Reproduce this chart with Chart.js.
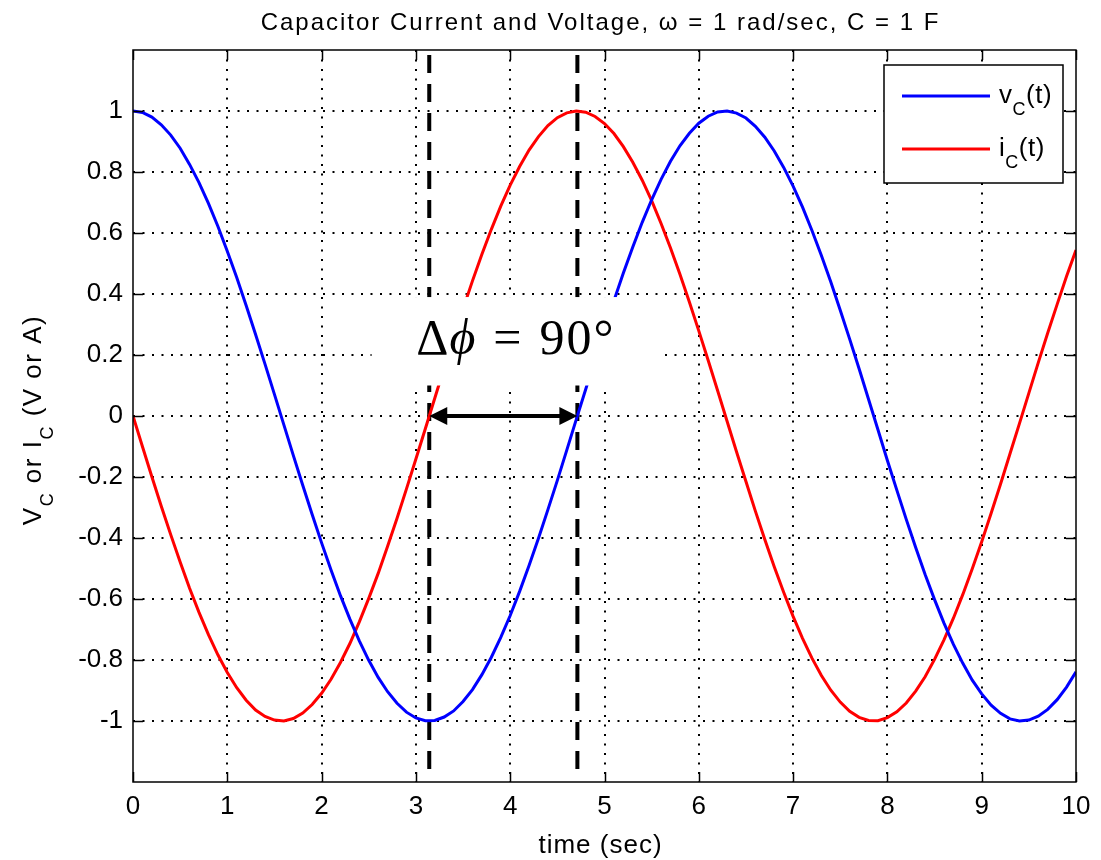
<!DOCTYPE html>
<html>
<head>
<meta charset="utf-8">
<title>Capacitor Current and Voltage</title>
<script src="https://cdn.jsdelivr.net/npm/chart.js@4.4.1/dist/chart.umd.min.js"></script>
<style>
    body { margin: 0; background: #fff; }
    canvas { display: block; }
</style>
</head>
<body>
<canvas id="phase-chart" width="1101" height="860"></canvas>
<script>
// time samples (sec)
const timeSec = [
    0.0, 0.1, 0.2, 0.3, 0.4, 0.5, 0.6, 0.7, 0.8, 0.9,
    1.0, 1.1, 1.2, 1.3, 1.4, 1.5, 1.6, 1.7, 1.8, 1.9,
    2.0, 2.1, 2.2, 2.3, 2.4, 2.5, 2.6, 2.7, 2.8, 2.9,
    3.0, 3.1, 3.2, 3.3, 3.4, 3.5, 3.6, 3.7, 3.8, 3.9,
    4.0, 4.1, 4.2, 4.3, 4.4, 4.5, 4.6, 4.7, 4.8, 4.9,
    5.0, 5.1, 5.2, 5.3, 5.4, 5.5, 5.6, 5.7, 5.8, 5.9,
    6.0, 6.1, 6.2, 6.3, 6.4, 6.5, 6.6, 6.7, 6.8, 6.9,
    7.0, 7.1, 7.2, 7.3, 7.4, 7.5, 7.6, 7.7, 7.8, 7.9,
    8.0, 8.1, 8.2, 8.3, 8.4, 8.5, 8.6, 8.7, 8.8, 8.9,
    9.0, 9.1, 9.2, 9.3, 9.4, 9.5, 9.6, 9.7, 9.8, 9.9,
    10.0
];

// capacitor voltage (V)
const vC = [
    1.000, 0.995, 0.980, 0.955, 0.921, 0.878, 0.825, 0.765, 0.697, 0.622,
    0.540, 0.454, 0.362, 0.267, 0.170, 0.071, -0.029, -0.129, -0.227, -0.323,
    -0.416, -0.505, -0.589, -0.666, -0.737, -0.801, -0.857, -0.904, -0.942, -0.971,
    -0.990, -0.999, -0.998, -0.987, -0.967, -0.936, -0.897, -0.848, -0.791, -0.726,
    -0.654, -0.575, -0.490, -0.401, -0.307, -0.211, -0.112, -0.012, 0.087, 0.187,
    0.284, 0.378, 0.469, 0.554, 0.635, 0.709, 0.776, 0.835, 0.886, 0.927,
    0.960, 0.983, 0.997, 1.000, 0.993, 0.977, 0.950, 0.914, 0.869, 0.815,
    0.754, 0.685, 0.608, 0.526, 0.439, 0.347, 0.252, 0.155, 0.055, -0.045,
    -0.146, -0.243, -0.339, -0.431, -0.520, -0.602, -0.679, -0.749, -0.811, -0.866,
    -0.911, -0.948, -0.975, -0.993, -1.000, -0.997, -0.984, -0.962, -0.930, -0.889,
    -0.839
];

// capacitor current (A)
const iC = [
    0.000, -0.100, -0.199, -0.296, -0.389, -0.479, -0.565, -0.644, -0.717, -0.783,
    -0.841, -0.891, -0.932, -0.964, -0.985, -0.997, -1.000, -0.992, -0.974, -0.946,
    -0.909, -0.863, -0.808, -0.746, -0.675, -0.598, -0.516, -0.427, -0.335, -0.239,
    -0.141, -0.042, 0.058, 0.158, 0.256, 0.351, 0.443, 0.530, 0.612, 0.688,
    0.757, 0.818, 0.872, 0.916, 0.952, 0.978, 0.994, 1.000, 0.996, 0.982,
    0.959, 0.926, 0.883, 0.832, 0.773, 0.706, 0.631, 0.551, 0.465, 0.374,
    0.279, 0.182, 0.083, -0.017, -0.117, -0.215, -0.312, -0.405, -0.494, -0.578,
    -0.657, -0.729, -0.794, -0.851, -0.899, -0.938, -0.968, -0.988, -0.998, -0.999,
    -0.989, -0.970, -0.941, -0.902, -0.855, -0.798, -0.734, -0.663, -0.585, -0.501,
    -0.412, -0.319, -0.223, -0.124, -0.025, 0.075, 0.175, 0.272, 0.366, 0.458,
    0.544
];

const xTicks = [0, 1, 2, 3, 4, 5, 6, 7, 8, 9, 10];
const yTicks = [-1, -0.8, -0.6, -0.4, -0.2, 0, 0.2, 0.4, 0.6, 0.8, 1];

// phase marker: vC minimum and iC maximum
const phaseStart = 3.1416;
const phaseEnd = 4.7124;

const FONT = '"Liberation Sans", Arial, sans-serif';
const SERIF = '"Liberation Serif", "DejaVu Serif", serif';

////
///////////////////// helpers /////////////////////
////

// draws pieces of text with sizes / baseline shifts, returns width
function richText(ctx, x, y, parts, spacing, measureOnly) {
    let cx = x;
    parts.forEach(p => {
        ctx.font = (p.italic ? 'italic ' : '') + p.size + 'px ' + (p.family || FONT);
        ctx.letterSpacing = (p.spacing !== undefined ? p.spacing : spacing) + 'px';
        if (!measureOnly) ctx.fillText(p.t, cx, y + (p.dy || 0));
        cx += ctx.measureText(p.t).width + (p.gap || 0);
    });
    ctx.letterSpacing = '0px';
    return cx - x;
}

function line(ctx, x1, y1, x2, y2) {
    ctx.beginPath();
    ctx.moveTo(x1, y1);
    ctx.lineTo(x2, y2);
    ctx.stroke();
}

////
///////////////////// matlab style axes /////////////////////
////

const matlabAxes = {
    id: 'matlabAxes',
    beforeDatasetsDraw(chart) {
        const { ctx, chartArea: a, scales: { x, y } } = chart;
        ctx.save();
        // dotted grid
        ctx.strokeStyle = '#000';
        ctx.lineWidth = 2;
        ctx.setLineDash([2, 7.5]);
        x.ticks.forEach(t => {
            if (t.value <= 0 || t.value >= 10) return;
            const px = Math.round(x.getPixelForValue(t.value));
            line(ctx, px, a.top, px, a.bottom);
        });
        y.ticks.forEach(t => {
            const py = Math.round(y.getPixelForValue(t.value));
            line(ctx, a.left, py, a.right, py);
        });
        // dashed phase markers
        ctx.setLineDash([18, 11]);
        ctx.lineWidth = 4;
        [phaseStart, phaseEnd].forEach(v => {
            const px = x.getPixelForValue(v);
            line(ctx, px, a.top + 5, px, a.bottom - 6);
        });
        ctx.restore();
    },
    afterDatasetsDraw(chart) {
        const { ctx, chartArea: a, scales: { x, y } } = chart;
        ctx.save();

        // double arrow between the two markers at zero
        const y0 = y.getPixelForValue(0);
        const xa = x.getPixelForValue(phaseStart);
        const xb = x.getPixelForValue(phaseEnd);
        ctx.strokeStyle = '#000';
        ctx.fillStyle = '#000';
        ctx.lineWidth = 4;
        line(ctx, xa + 12, y0, xb - 12, y0);
        ctx.beginPath();
        ctx.moveTo(xa, y0); ctx.lineTo(xa + 18, y0 - 9); ctx.lineTo(xa + 18, y0 + 9); ctx.closePath();
        ctx.moveTo(xb, y0); ctx.lineTo(xb - 18, y0 - 9); ctx.lineTo(xb - 18, y0 + 9); ctx.closePath();
        ctx.fill();

        // white label box
        const bx0 = x.getPixelForValue(2.53), bx1 = x.getPixelForValue(5.59);
        const by0 = y.getPixelForValue(0.39), by1 = y.getPixelForValue(0.10);
        ctx.fillStyle = '#fff';
        ctx.fillRect(bx0, by0, bx1 - bx0, by1 - by0);
        const phaseParts = [
            { t: '\u0394', size: 50, family: SERIF, gap: 1 },
            { t: '\u03D5', size: 50, family: SERIF, italic: true, gap: 18 },
            { t: '=', size: 50, family: SERIF, gap: 18 },
            { t: '90\u00B0', size: 50, family: SERIF, spacing: 2 }
        ];
        ctx.fillStyle = '#000';
        ctx.textAlign = 'left';
        ctx.textBaseline = 'alphabetic';
        const pw = richText(ctx, 0, 0, phaseParts, 0, true);
        richText(ctx, (bx0 + bx1) / 2 - pw / 2, (by0 + by1) / 2 + 13, phaseParts, 0);

        // frame and inward ticks
        ctx.strokeStyle = '#000';
        ctx.lineWidth = 1.5;
        ctx.strokeRect(a.left, a.top, a.right - a.left, a.bottom - a.top);
        x.ticks.forEach(t => {
            const px = Math.round(x.getPixelForValue(t.value)) + 0.5;
            line(ctx, px, a.bottom, px, a.bottom - 10);
            line(ctx, px, a.top, px, a.top + 10);
        });
        y.ticks.forEach(t => {
            const py = Math.round(y.getPixelForValue(t.value)) + 0.5;
            line(ctx, a.left, py, a.left + 10, py);
            line(ctx, a.right, py, a.right - 10, py);
        });

        // legend
        const lx = a.right - 192, ly = a.top + 15;
        ctx.fillStyle = '#fff';
        ctx.fillRect(lx, ly, 179, 118);
        ctx.strokeRect(lx, ly, 179, 118);
        const entries = [
            { color: '#0000ff', main: 'v', dy: 31 },
            { color: '#ff0000', main: 'i', dy: 84 }
        ];
        entries.forEach(e => {
            ctx.strokeStyle = e.color;
            ctx.lineWidth = 3;
            line(ctx, lx + 18, ly + e.dy, lx + 106, ly + e.dy);
            ctx.fillStyle = '#000';
            richText(ctx, lx + 115, ly + e.dy + 7, [
                { t: e.main, size: 26 },
                { t: 'C', size: 18, dy: 12 },
                { t: '(t)', size: 26 }
            ], 0.5);
        });
        ctx.restore();
    },
    afterDraw(chart) {
        const { ctx, chartArea: a } = chart;
        ctx.save();
        ctx.fillStyle = '#000';
        ctx.textBaseline = 'alphabetic';

        // title
        const titleParts = [{ t: 'Capacitor Current and Voltage, \u03C9 = 1 rad/sec, C = 1 F', size: 24 }];
        const tw = richText(ctx, 0, 0, titleParts, 2, true);
        richText(ctx, (a.left + a.right) / 2 - tw / 2 - 4, 30, titleParts, 2);

        // x axis title
        const xParts = [{ t: 'time (sec)', size: 26 }];
        const xw = richText(ctx, 0, 0, xParts, 1, true);
        richText(ctx, (a.left + a.right) / 2 - xw / 2 - 4, 853, xParts, 1);

        // y axis title (rotated)
        const yParts = [
            { t: 'V', size: 26 },
            { t: 'C', size: 18, dy: 12 },
            { t: ' or I', size: 26 },
            { t: 'C', size: 18, dy: 12 },
            { t: ' (V or A)', size: 26 }
        ];
        const yw = richText(ctx, 0, 0, yParts, 1.5, true);
        ctx.translate(41, 420);
        ctx.rotate(-Math.PI / 2);
        richText(ctx, -yw / 2, 0, yParts, 1.5);
        ctx.restore();
    }
};

////
///////////////////// chart /////////////////////
////

const phaseCanvas = document.getElementById('phase-chart');

const phaseData = {
    datasets: [{
        label: 'vC(t)',
        data: timeSec.map((t, i) => ({ x: t, y: vC[i] })),
        borderColor: '#0000ff',
        borderWidth: 3,
        pointRadius: 0,
        tension: 0
    }, {
        label: 'iC(t)',
        data: timeSec.map((t, i) => ({ x: t, y: iC[i] })),
        borderColor: '#ff0000',
        borderWidth: 3,
        pointRadius: 0,
        tension: 0
    }]
};

const phaseOptions = {
    responsive: false,
    animation: false,
    layout: {
        padding: { left: 0, right: 25, top: 50, bottom: 0 }
    },
    scales: {
        x: {
            type: 'linear',
            min: 0,
            max: 10,
            afterBuildTicks: scale => { scale.ticks = xTicks.map(v => ({ value: v })); },
            afterFit: scale => { scale.height = 78; },
            grid: { display: false, drawTicks: false },
            border: { display: false },
            ticks: {
                color: '#000',
                padding: 9,
                maxRotation: 0,
                font: { family: FONT, size: 26 },
                callback: v => String(v)
            }
        },
        y: {
            type: 'linear',
            min: -1.2,
            max: 1.2,
            afterBuildTicks: scale => { scale.ticks = yTicks.map(v => ({ value: v })); },
            afterFit: scale => { scale.width = 133; },
            grid: { display: false, drawTicks: false },
            border: { display: false },
            ticks: {
                color: '#000',
                padding: 10,
                font: { family: FONT, size: 26 },
                callback: v => String(Math.round(v * 10) / 10)
            }
        }
    },
    plugins: {
        legend: { display: false },
        title: { display: false },
        tooltip: { enabled: false }
    }
};

let phaseChart = new Chart(phaseCanvas, {
    type: 'line',
    data: phaseData,
    options: phaseOptions,
    plugins: [matlabAxes]
});
</script>
</body>
</html>
